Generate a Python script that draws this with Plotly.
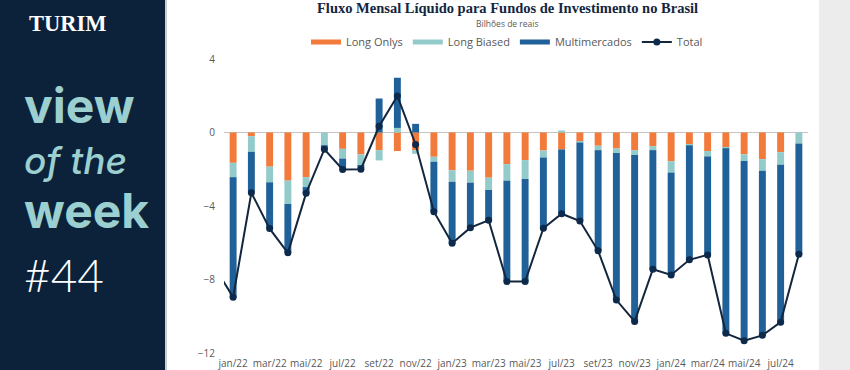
import plotly.graph_objects as go

months = ["dez/21", "jan/22", "fev/22", "mar/22", "abr/22", "mai/22", "jun/22", "jul/22", "ago/22",
          "set/22", "out/22", "nov/22", "dez/22", "jan/23", "fev/23", "mar/23", "abr/23", "mai/23",
          "jun/23", "jul/23", "ago/23", "set/23", "out/23", "nov/23", "dez/23", "jan/24", "fev/24",
          "mar/24", "abr/24", "mai/24", "jun/24", "jul/24", "ago/24"]

long_onlys = [None, -1.65, -0.20, -1.86, -2.62, -2.43, 0.00, -0.89, -1.19, -0.96, -1.01, -0.96,
              -1.32, -2.05, -2.08, -2.46, -1.72, -1.50, -0.98, -0.92, -0.51, -0.72, -0.87,
              -0.96, -0.74, -1.56, -0.67, -1.01, -0.81, -1.19, -1.45, -1.07, 0.00]

long_biased = [None, -0.78, -0.85, -0.85, -1.27, -0.54, -0.69, -0.53, -0.58, -0.56, 0.25, -0.20,
               -0.27, -0.63, -0.65, -0.67, -0.90, -1.03, -0.38, 0.11, -0.04, -0.24, -0.25,
               -0.27, -0.22, -0.62, -0.03, -0.29, -0.05, -0.36, -0.63, -0.69, -0.60]

multimercados = [None, -6.55, -2.20, -2.50, -2.66, -0.33, -0.22, -0.54, -0.18, 1.85, 2.73, 0.47,
                 -2.71, -3.35, -2.44, -1.65, -5.48, -5.57, -3.85, -3.49, -4.27, -5.48, -8.00,
                 -9.05, -6.48, -5.57, -6.26, -5.36, -10.06, -9.77, -8.96, -8.56, -6.03]

total = [-7.35, -8.96, -3.28, -5.23, -6.55, -3.30, -0.91, -2.01, -2.00, 0.34, 1.99, -0.65,
         -4.31, -6.03, -5.18, -4.78, -8.11, -8.11, -5.21, -4.42, -4.82, -6.44, -9.12,
         -10.28, -7.44, -7.75, -6.93, -6.66, -10.93, -11.33, -11.04, -10.32, -6.63]

y_ticks = [4, 0, -4, -8, -12]
x_ticks = months[1::2]

C_LO = "#F27B3C"
C_LB = "#93CBCB"
C_MM = "#1F6198"
C_TOT = "#14263D"
NAVY = "#0C223A"
GRAY_TXT = "#595959"
SANS = "Open Sans, sans-serif"

W, H = 850, 370
ML, MR, MT, MB = 224, 42, 59, 17
PW, PH = W - ML - MR, H - MT - MB


def px(x):
    return (x - ML) / PW


def py(y):
    return (H - MB - y) / PH


fig = go.Figure()
for name, vals, col in [("Long Onlys", long_onlys, C_LO),
                        ("Long Biased", long_biased, C_LB),
                        ("Multimercados", multimercados, C_MM)]:
    fig.add_trace(go.Bar(x=months, y=vals, name=name, marker=dict(color=col, line=dict(width=0)),
                         width=0.38, showlegend=False))
for name, col in [("Long Onlys", C_LO), ("Long Biased", C_LB), ("Multimercados", C_MM)]:
    fig.add_trace(go.Scatter(x=[None], y=[None], mode="lines", name=name,
                             line=dict(color=col, width=5)))
fig.add_trace(go.Scatter(x=months, y=total, name="Total", mode="lines+markers",
                         line=dict(color=C_TOT, width=2),
                         marker=dict(color="#0D2A4C", size=7), cliponaxis=True))

shapes = [
    dict(type="rect", xref="paper", yref="paper", x0=px(0), x1=px(165), y0=py(H), y1=py(0),
         fillcolor=NAVY, line=dict(width=0), layer="below"),
    dict(type="rect", xref="paper", yref="paper", x0=px(165), x1=px(167), y0=py(H), y1=py(0),
         fillcolor="#C9CDD2", line=dict(width=0), layer="below"),
    dict(type="rect", xref="paper", yref="paper", x0=px(819), x1=px(W), y0=py(H), y1=py(0),
         fillcolor="#ECECEC", line=dict(width=0), layer="below"),
]

annotations = [
    dict(text="<b>Fluxo Mensal Líquido para Fundos de Investimento no Brasil</b>", x=px(507), y=py(8),
         xref="paper", yref="paper", showarrow=False, xanchor="center", yanchor="middle",
         font=dict(family="Liberation Serif, serif", size=14.5, color="#13263F")),
    dict(text="Bilhões de reais", x=px(507), y=py(23), xref="paper", yref="paper", showarrow=False,
         xanchor="center", yanchor="middle", font=dict(family=SANS, size=8.5, color=GRAY_TXT)),
    dict(text="<b>TURIM</b>", x=px(68), y=py(23), xref="paper", yref="paper", showarrow=False,
         xanchor="center", yanchor="middle",
         font=dict(family="Liberation Serif, serif", size=22.5, color="white")),
]

TEAL = "#9CCFCF"
for txt, yc, size, ital in [("view", 106, 48, False), ("of the", 160, 37, True), ("week", 210, 48, False)]:
    t = "<i>%s</i>" % txt if ital else "<b>%s</b>" % txt
    annotations.append(dict(text=t, x=px(22), y=py(yc), xref="paper", yref="paper",
                            showarrow=False, xanchor="left", yanchor="middle",
                            font=dict(family="Inter, sans-serif", size=size, color=TEAL,
                                      weight=800 if not ital else 500)))
annotations.append(dict(text="#44", x=px(22), y=py(274), xref="paper", yref="paper", showarrow=False,
                        xanchor="left", yanchor="middle",
                        font=dict(family="Lato, sans-serif", size=46, color="white", weight=300)))

fig.update_layout(
    width=W, height=H,
    margin=dict(l=ML, r=MR, t=MT, b=MB, pad=0, autoexpand=False),
    paper_bgcolor="white", plot_bgcolor="white",
    barmode="relative", bargap=0.62,
    shapes=shapes, annotations=annotations,
    legend=dict(orientation="h", xref="container", yref="container", x=507 / W, xanchor="center",
                y=1 - 42 / H, yanchor="middle",
                font=dict(family=SANS, size=11, color=GRAY_TXT), traceorder="normal",
                bgcolor="rgba(0,0,0,0)", itemwidth=30),
    xaxis=dict(type="category", range=[0.5, 32.5], tickvals=x_ticks, ticktext=x_ticks,
               showgrid=False, zeroline=False, showline=False, ticks="", automargin=False,
               tickfont=dict(family=SANS, size=10, color=GRAY_TXT), tickangle=0,
               ticklabelstandoff=3),
    yaxis=dict(range=[-12, 4], tickvals=y_ticks, showgrid=False, zeroline=True, automargin=False,
               zerolinecolor="#C4C4C4", zerolinewidth=1, showline=False, ticks="",
               tickfont=dict(family=SANS, size=10, color=GRAY_TXT), ticklabelstandoff=8),
    showlegend=True,
)

fig.write_html("out.html", config={"displayModeBar": False},
               post_script="document.body.style.margin='0';")
